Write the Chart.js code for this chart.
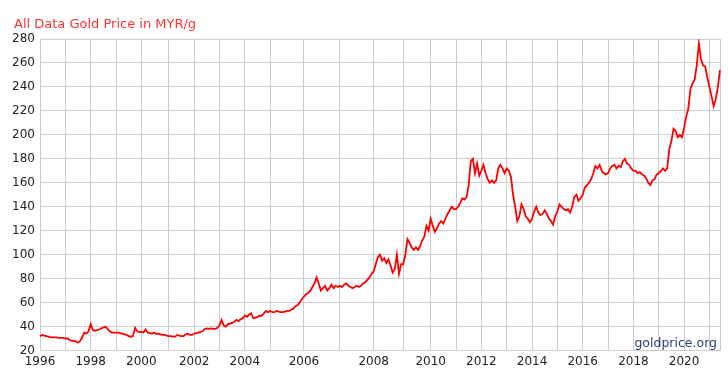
<!DOCTYPE html>
<html>
<head>
<meta charset="utf-8">
<title>All Data Gold Price in MYR/g</title>
<script src="https://cdn.jsdelivr.net/npm/chart.js@4.4.1/dist/chart.umd.min.js"></script>
<style>
  html, body { margin: 0; padding: 0; background: #fff; }
  canvas { display: block; }
</style>
</head>
<body>
<canvas id="grafico" width="728" height="374"></canvas>
<script>
// Anos do eixo X e quantos pontos cada ano tem no gráfico original
const anos = [1996, 1997, 1998, 1999, 2000, 2001, 2002, 2003, 2004, 2005, 2006, 2007, 2008,
    2009, 2010, 2011, 2012, 2013, 2014, 2015, 2016, 2017, 2018, 2019, 2020, 2021];
const pontosPorAno = [12, 12, 12, 12, 13, 12, 12, 12, 12, 16, 17, 16, 14,
    13, 12, 12, 12, 12, 12, 12, 12, 12, 12, 12, 12, 6];

// Preço do ouro em MYR/g
const precos = [
    32, 33, 32.5, 32, 31.5, 31, 31, 31, 31, 30.5, 30.5, 30.5,              // 1996
    30, 30, 29, 28, 28, 27.5, 26.5, 28, 31, 35, 34, 36,                    // 1997
    42, 37, 36.5, 37, 37.5, 38.5, 39, 40, 38, 36, 35, 35,                  // 1998
    35, 35, 34.5, 34, 33.5, 33, 32, 31.5, 32, 39, 36, 35.5,                // 1999
    35.5, 35, 37.5, 35, 34.5, 34, 35, 34, 34, 33.5, 33, 33, 32.5,          // 2000
    32, 32, 31.5, 31.5, 33, 32.5, 32, 32, 33.5, 34, 33, 33,                // 2001
    34, 34.5, 35, 35.5, 36, 38, 38.5, 38, 38.5, 38, 38, 39,                // 2002
    41, 45.5, 41, 40, 42, 42.5, 43, 44, 45.5, 44.5, 46, 47,                // 2003
    49, 48, 50, 51, 47, 47.5, 48, 49, 49, 51, 53, 52,                      // 2004
    53, 52, 52, 53, 52.5, 52, 52, 52.5, 53, 53, 54, 55, 57, 58, 60, 63,    // 2005
    65, 67, 68, 70, 73, 76, 81, 76, 70, 72, 74, 70, 72, 75, 72, 74, 73,    // 2006
    74, 73, 75, 76, 74, 73, 72, 73, 74, 73, 74, 76, 77, 79, 81, 84,        // 2007
    86, 92, 98, 100, 95, 97, 93, 96, 91, 85, 88, 100, 84, 92,              // 2008
    92, 100, 113, 110, 106, 104, 106, 104, 107, 112, 115, 124, 120,        // 2009
    130, 124, 119, 122, 126, 128, 126, 130, 134, 137, 140, 138,            // 2010
    138, 140, 143, 147, 146, 148, 158, 178, 180, 168, 176, 166,            // 2011
    170, 175, 168, 163, 160, 162, 160, 162, 172, 175, 172, 168,            // 2012
    172, 170, 165, 150, 140, 128, 132, 142, 138, 132, 130, 127,            // 2013
    130, 136, 140, 135, 133, 134, 137, 134, 130, 128, 125, 132,            // 2014
    136, 142, 140, 138, 137, 138, 135, 140, 148, 150, 145, 147,            // 2015
    150, 156, 158, 160, 163, 168, 174, 172, 175, 170, 168, 167,            // 2016
    168, 172, 174, 175, 172, 174, 173, 178, 180, 176, 175, 172,            // 2017
    170, 170, 168, 169, 167, 166, 164, 160, 158, 162, 163, 167,            // 2018
    168, 170, 172, 170, 172, 188, 195, 205, 203, 198, 200, 198,            // 2019
    206, 215, 222, 238, 243, 246, 258, 276, 263, 258, 257, 248,            // 2020
    240, 232, 224, 230, 240, 254                                           // 2021
];

// Eixo Y
const yMin = 20, yMax = 280, yPasso = 20;

const titulo = 'All Data Gold Price in MYR/g';
const marcaDagua = 'goldprice.org';

// Monta os rótulos (um por ponto) e marca o início de cada ano
const rotulos = [];
const inicioAno = new Set();
anos.forEach(function (ano, i) {
    inicioAno.add(rotulos.length);
    for (let k = 0; k < pontosPorAno[i]; k++) rotulos.push(String(ano));
});
const ultimo = rotulos.length - 1;

const corGrade = '#cccccc';
const fonte = '"DejaVu Sans", Verdana, sans-serif';

// Plugin simples para o título e a marca d'água
const textos = {
    id: 'textos',
    afterDraw(chart) {
        const ctx = chart.ctx;
        const area = chart.chartArea;
        ctx.save();
        ctx.font = '13px ' + fonte;
        ctx.fillStyle = '#ff3333';
        ctx.textAlign = 'left';
        ctx.textBaseline = 'alphabetic';
        ctx.fillText(titulo, 14, 28);
        ctx.font = '12.5px ' + fonte;
        ctx.fillStyle = '#2b3f73';
        ctx.textAlign = 'right';
        ctx.fillText(marcaDagua, area.right - 3, area.bottom - 4);
        ctx.restore();
    }
};

new Chart(document.getElementById('grafico').getContext('2d'), {
    type: 'line',
    data: {
        labels: rotulos,
        datasets: [{
            label: 'MYR/g',
            data: precos,
            borderColor: '#ff0000',
            borderWidth: 1.8,
            pointRadius: 0,
            tension: 0,
            fill: false
        }]
    },
    options: {
        responsive: false,
        animation: false,
        layout: { padding: { top: 39, right: 8, left: 0, bottom: 0 } },
        plugins: {
            legend: { display: false },
            tooltip: { enabled: false }
        },
        scales: {
            x: {
                type: 'category',
                afterFit: function (scale) { scale.height = 23.5; },
                grid: {
                    drawTicks: false,
                    color: function (c) {
                        return (inicioAno.has(c.index) || c.index === ultimo) ? corGrade : 'rgba(0,0,0,0)';
                    }
                },
                border: { display: true, color: corGrade },
                ticks: {
                    autoSkip: false,
                    maxRotation: 0,
                    minRotation: 0,
                    padding: 4,
                    color: '#222',
                    font: { family: fonte, size: 12 },
                    callback: function (value, index) {
                        const r = this.getLabelForValue(value);
                        return (inicioAno.has(index) && Number(r) % 2 === 0) ? r : '';
                    }
                }
            },
            y: {
                min: yMin,
                max: yMax,
                afterFit: function (scale) { scale.width = 40; },
                grid: { drawTicks: false, color: corGrade },
                border: { display: true, color: corGrade },
                ticks: {
                    stepSize: yPasso,
                    padding: 5,
                    color: '#222',
                    font: { family: fonte, size: 12 }
                }
            }
        }
    },
    plugins: [textos]
});
</script>
</body>
</html>
